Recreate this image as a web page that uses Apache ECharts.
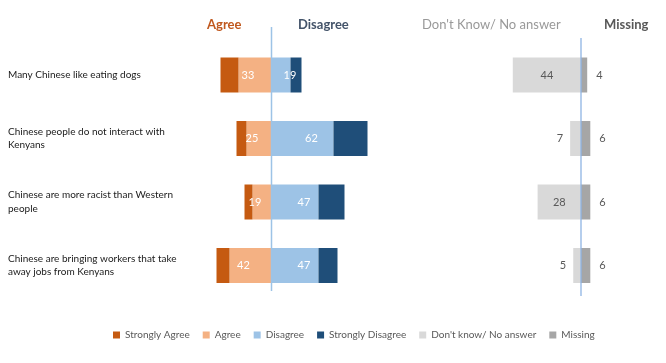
<!DOCTYPE html>
<html>
<head>
<meta charset="utf-8">
<script src="https://cdn.jsdelivr.net/npm/echarts@6/dist/echarts.min.js"></script>
<style>
html,body{margin:0;padding:0;background:#fff;}
#chart{width:666px;height:363px;}
</style>
</head>
<body>
<div id="chart"></div>
<script>
const categories = [
  'Many Chinese like eating dogs',
  'Chinese people do not interact with Kenyans',
  'Chinese are more racist than Western people',
  'Chinese are bringing workers that take away jobs from Kenyans'
];
const stronglyAgree = [18, 10, 8, 13];
const agree = [33, 25, 19, 42];
const disagree = [19, 62, 47, 47];
const stronglyDisagree = [11, 34, 26, 19];
const dontKnow = [44, 7, 28, 5];
const missing = [4, 6, 6, 6];
const legendNames = ['Strongly Agree', 'Agree', 'Disagree', 'Strongly Disagree', "Don't know/ No answer", 'Missing'];
const headers = ['Agree', 'Disagree', "Don't Know/ No answer", 'Missing'];

const FONT = 'Lato';
const C = {
  sa: '#C55A11', a: '#F4B183', d: '#9DC3E6', sd: '#1F4E79', dk: '#D9D9D9', m: '#A6A6A6'
};
const gridTop = 43.25, gridH = 254;

const chart = echarts.init(document.getElementById('chart'), null, {renderer: 'canvas'});
const neg = arr => arr.map(v => -v);
const absFmt = p => Math.abs(p.value);
const barW = 35;

const option = {
  animation: false,
  textStyle: {fontFamily: FONT},
  grid: [
    {left: 201.5, width: 200, top: gridTop, height: gridH},
    {left: 503.5, width: 93, top: gridTop, height: gridH}
  ],
  xAxis: [
    {gridIndex: 0, type: 'value', min: -70, max: 130, show: false},
    {gridIndex: 1, type: 'value', min: -50, max: 10, show: false}
  ],
  yAxis: [
    {gridIndex: 0, type: 'category', data: categories, inverse: true,
     axisLine: {show: false, onZero: false}, axisTick: {show: false},
     axisLabel: {align: 'left', margin: 193.5, width: 185, overflow: 'break',
       fontFamily: FONT, fontSize: 10, color: '#1a1a1a', lineHeight: 13.5, padding: [0,0,6,0]}},
    {gridIndex: 1, type: 'category', data: categories, inverse: true, show: false}
  ],
  legend: {
    data: legendNames, left: 108, top: 325, itemWidth: 7, itemHeight: 7, itemGap: 13,
    icon: 'rect', textStyle: {fontFamily: FONT, fontSize: 10, color: '#595959'}
  },
  series: [
    {name: 'Agree', type: 'bar', stack: 'l', xAxisIndex: 0, yAxisIndex: 0, barWidth: barW,
     data: neg(agree), itemStyle: {color: C.a},
     label: {show: true, position: 'inside', offset: [-7, 0], formatter: absFmt, color: '#fff', fontSize: 11, fontFamily: FONT}},
    {name: 'Strongly Agree', type: 'bar', stack: 'l', xAxisIndex: 0, yAxisIndex: 0, barWidth: barW,
     data: neg(stronglyAgree), itemStyle: {color: C.sa}},
    {name: 'Disagree', type: 'bar', stack: 'l', xAxisIndex: 0, yAxisIndex: 0, barWidth: barW,
     data: disagree, itemStyle: {color: C.d},
     label: {show: true, position: 'inside', offset: [9, 0], formatter: absFmt, color: '#fff', fontSize: 11, fontFamily: FONT}},
    {name: 'Strongly Disagree', type: 'bar', stack: 'l', xAxisIndex: 0, yAxisIndex: 0, barWidth: barW,
     data: stronglyDisagree, itemStyle: {color: C.sd}},
    {name: "Don't know/ No answer", type: 'bar', stack: 'r', xAxisIndex: 1, yAxisIndex: 1, barWidth: barW,
     data: dontKnow.map(v => ({value: -v, label: {position: v < 10 ? 'left' : 'inside'}})),
     itemStyle: {color: C.dk},
     label: {show: true, distance: 7, formatter: absFmt, color: '#595959', fontSize: 11, fontFamily: FONT}},
    {name: 'Missing', type: 'bar', stack: 'r', xAxisIndex: 1, yAxisIndex: 1, barWidth: barW,
     data: missing, itemStyle: {color: C.m},
     label: {show: true, position: 'right', distance: 9, formatter: absFmt, color: '#595959', fontSize: 11, fontFamily: FONT}}
  ],
  graphic: {elements: [
    {id: 'h0', type: 'text', left: 207, top: 18, style: {text: headers[0], fill: '#C0581E', font: 'bold 13px ' + FONT}},
    {id: 'h1', type: 'text', left: 298, top: 18, style: {text: headers[1], fill: '#44546A', font: 'bold 13px ' + FONT}},
    {id: 'h2', type: 'text', left: 422, top: 18, style: {text: headers[2], fill: '#999999', font: '13px ' + FONT}},
    {id: 'h3', type: 'text', left: 604, top: 18, style: {text: headers[3], fill: '#595959', font: 'bold 13px ' + FONT}}
  ]}
};
chart.setOption(option);
const x0 = chart.convertToPixel({xAxisIndex: 0}, 0);
const x1 = chart.convertToPixel({xAxisIndex: 1}, 0);
chart.setOption({graphic: {elements: [
  {id: 'z0', type: 'line', z: 100, shape: {x1: x0, y1: 27, x2: x0, y2: 291}, style: {stroke: '#9DC3E6', lineWidth: 1.5}},
  {id: 'z1', type: 'line', z: 100, shape: {x1: x1, y1: 38, x2: x1, y2: 296}, style: {stroke: '#8EB4E3', lineWidth: 1.3}}
]}});
</script>
</body>
</html>
